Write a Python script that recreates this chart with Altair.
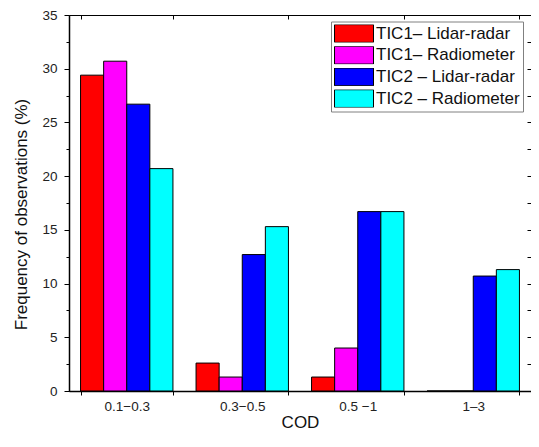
import altair as alt
import pandas as pd

cats = ["0.1\u22120.3", "0.3\u22120.5", "0.5 \u22121", "1\u20133"]
series = ["TIC1\u2013 Lidar-radar", "TIC1\u2013 Radiometer", "TIC2 \u2013 Lidar-radar", "TIC2 \u2013 Radiometer"]
colors = ["#FF0000", "#FF00FF", "#0000FF", "#00FFFF"]

tic1_lidar = [29.4, 2.6, 1.3, 0.0]
tic1_radio = [30.7, 1.3, 4.0, 0.0]
tic2_lidar = [26.7, 12.7, 16.7, 10.7]
tic2_radio = [20.7, 15.3, 16.7, 11.3]

y_ticks = [0, 2.5, 5, 7.5, 10, 12.5, 15, 17.5, 20, 22.5, 25, 27.5, 30, 32.5, 35]

rows = []
for s, vals in zip(series, [tic1_lidar, tic1_radio, tic2_lidar, tic2_radio]):
    for c, v in zip(cats, vals):
        rows.append({"cod": c, "series": s, "value": v})
df = pd.DataFrame(rows)

FONT = "Liberation Sans"

xscale = alt.Scale(paddingInner=0.2, paddingOuter=0.1)
yscale = alt.Scale(domain=[0, 35], nice=False)

bars = alt.Chart(df).mark_bar(stroke="black", strokeWidth=1).encode(
    x=alt.X("cod:N", sort=cats, scale=xscale,
            axis=alt.Axis(title="COD", orient="bottom", tickBand="extent", labelAngle=0,
                          labelFontSize=13.5, labelPadding=4, labelColor="#222",
                          titleFontSize=17, titleFontWeight="normal", titlePadding=2,
                          titleColor="#111",
                          domainColor="black", domainWidth=1.5,
                          tickColor="black", tickSize=4, tickWidth=1)),
    xOffset=alt.XOffset("series:N", sort=series,
                        scale=alt.Scale(paddingInner=0, paddingOuter=0)),
    y=alt.Y("value:Q", scale=yscale, stack=False,
            axis=alt.Axis(title="Frequency of observations (%)", orient="left",
                          values=y_ticks,
                          labelExpr="datum.value % 5 === 0 ? datum.label : ''",
                          labelFontSize=13.5, labelPadding=7, labelColor="#222",
                          titleFontSize=17, titleFontWeight="normal", titlePadding=11,
                          titleColor="#111", titleY=199,
                          domainColor="black", domainWidth=1.5,
                          tickColor="black", tickWidth=1,
                          tickSize={"condition": {"test": "datum.value % 5 === 0", "value": 5}, "value": 3},
                          grid=False)),
    color=alt.Color("series:N", sort=series,
                    scale=alt.Scale(domain=series, range=colors),
                    legend=alt.Legend(title=None, orient="none", legendX=262, legendY=6.5,
                                      padding=3, strokeColor="#808080", fillColor="white",
                                      symbolType="M-1,-0.454H1V0.454H-1Z", symbolSize=1521,
                                      symbolStrokeColor="black", symbolStrokeWidth=1,
                                      symbolOpacity=1,
                                      labelFontSize=17, labelOffset=2, labelColor="#111",
                                      clipHeight=18, rowPadding=3.7)),
)

frame = alt.Chart(df).mark_bar(opacity=0).encode(
    x=alt.X("cod:N", sort=cats, scale=xscale,
            axis=alt.Axis(title=None, orient="top", tickBand="extent", labels=False,
                          domain=False, tickColor="black", tickSize=4, offset=-4)),
    y=alt.Y("value:Q", scale=yscale, stack=False,
            axis=alt.Axis(title=None, orient="right", values=y_ticks, labels=False,
                          domain=False, tickColor="black", tickSize=4, offset=-4,
                          grid=False)),
)

chart = alt.layer(bars, frame).resolve_axis(x="independent", y="independent").properties(
    width=462, height=376,
    autosize=alt.AutoSizeParams(type="none"),
    padding={"left": 61, "top": 7, "right": 0, "bottom": 43},
).configure(font=FONT).configure_view(stroke="black", strokeWidth=1)

chart.save("out.html", embed_options={"renderer": "svg", "actions": False})
